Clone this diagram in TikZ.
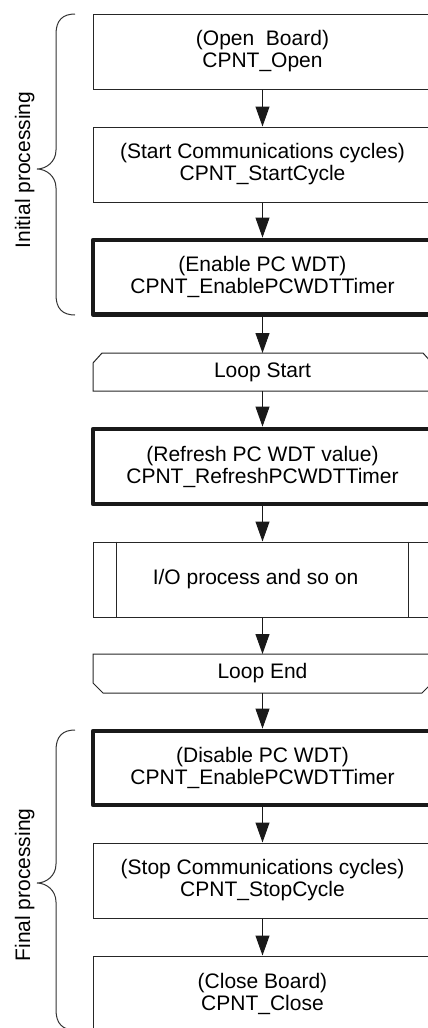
\documentclass[tikz,border=0pt]{standalone}
\usepackage{fontspec}
\setmainfont{Liberation Sans}
\usetikzlibrary{arrows.meta}
\begin{document}
\begin{tikzpicture}[x=1pt,y=-1pt,
  lw/.style={line width=1pt, draw=black!85},
  txt/.style={font=\fontsize{21}{22}\selectfont, align=center, inner sep=0pt},
  box/.style={txt, lw, minimum width=339pt, minimum height=75pt},
  thickbox/.style={box, line width=4.8pt, draw=black!90, line join=round},
  loopbox/.style={txt, minimum width=339pt, minimum height=38pt, outer sep=0pt},
  arr/.style={-{Triangle[length=20pt,width=14pt]}, line width=1pt, draw=black!90, fill=black!90},
  brace/.style={line width=1pt, draw=black!80},
  lab/.style={font=\fontsize{21}{22}\selectfont, inner sep=0pt, rotate=90, anchor=base}
]
\useasboundingbox (0,0) rectangle (428,1028);
\clip (0,0) rectangle (428,1028);

% boxes
\node[box] (b1) at (262.5,51.5) {(Open\ \ Board)\\CPNT\_Open};
\node[box] (b2) at (262.5,164.5) {(Start Communications cycles)\\CPNT\_StartCycle};
\node[thickbox, minimum height=74.5pt] (b3) at (262.5,277.25) {(Enable PC WDT)\\CPNT\_EnablePCWDTTimer};
\node[loopbox] (ls) at (262.5,372) {Loop Start};
\node[thickbox] (b4) at (262.5,466.5) {(Refresh PC WDT value)\\CPNT\_RefreshPCWDTTimer};
\node[box] (io) at (262.5,579.5) {};
\node[txt] (iot) at (255.5,579.5) {I/O process and so on};
\node[loopbox, minimum height=39pt] (le) at (262.5,673.5) {Loop End};
\node[thickbox, minimum height=74pt] (b5) at (262.5,768) {(Disable PC WDT)\\CPNT\_EnablePCWDTTimer};
\node[box] (b6) at (262.5,880.5) {(Stop Communications cycles)\\CPNT\_StopCycle};
\node[box] (b7) at (262.5,993.5) {(Close Board)\\CPNT\_Close};

% loop start / end outlines
\draw[lw] ([yshift=-10pt]ls.north west) -- ([xshift=9pt]ls.north west) -- ([xshift=-9pt]ls.north east) -- ([yshift=-10pt]ls.north east) -- (ls.south east) -- (ls.south west) -- cycle;
\draw[lw] (le.north west) -- (le.north east) -- ([yshift=10pt]le.south east) -- ([xshift=-10pt]le.south east) -- ([xshift=10pt]le.south west) -- ([yshift=10pt]le.south west) -- cycle;

% I/O inner bars
\draw[lw] ([xshift=24pt]io.north west) -- ([xshift=24pt]io.south west);
\draw[lw] ([xshift=-24pt]io.north east) -- ([xshift=-24pt]io.south east);

% arrows
\draw[arr] (b1.south) -- (b2.north);
\draw[arr] (b2.south) -- (b3.north);
\draw[arr] (b3.south) -- (ls.north);
\draw[arr] (ls.south) -- (b4.north);
\draw[arr] (b4.south) -- (io.north);
\draw[arr] (io.south) -- (le.north);
\draw[arr] (le.south) -- (b5.north);
\draw[arr] (b5.south) -- (b6.north);
\draw[arr] (b6.south) -- (b7.north);

% braces
\draw[brace] (75,14) .. controls (63,14) and (56,20) .. (56,34) -- (56,150)
  .. controls (56,162) and (46,169) .. (37,169)
  .. controls (46,169) and (56,176) .. (56,188) -- (56,295)
  .. controls (56,309) and (63,315) .. (75,315);
\draw[brace] (75,730) .. controls (63,730) and (56,736) .. (56,750) -- (56,864)
  .. controls (56,876) and (46,883) .. (37,883)
  .. controls (46,883) and (56,890) .. (56,902) -- (56,1010)
  .. controls (56,1024) and (63,1030) .. (75,1030);

\node[lab] (l1) at (30,170) {Initial processing};
\node[lab] (l2) at (30,885) {Final processing};
\end{tikzpicture}
\end{document}
